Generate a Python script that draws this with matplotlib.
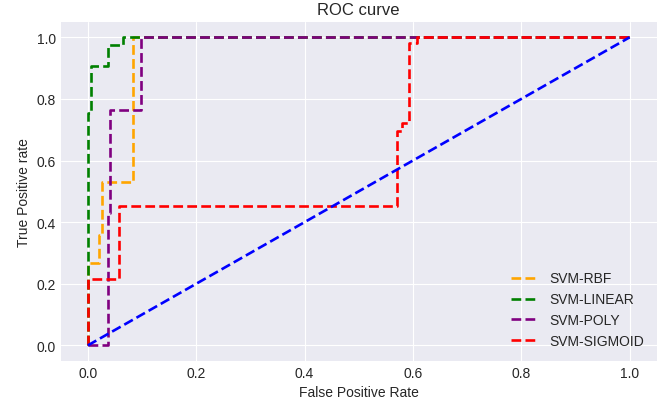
import matplotlib
matplotlib.use('Agg')
import matplotlib.pyplot as plt

# ROC points
rbf_fpr = [0, 0, 0.02, 0.02, 0.026, 0.026, 0.084, 0.084, 1.0]
rbf_tpr = [0, 0.268, 0.268, 0.359, 0.359, 0.53, 0.53, 1.0, 1.0]

linear_fpr = [0, 0, 0.006, 0.006, 0.037, 0.037, 0.065, 0.065, 1.0]
linear_tpr = [0, 0.755, 0.755, 0.908, 0.908, 0.975, 0.975, 1.0, 1.0]

poly_fpr = [0, 0.037, 0.037, 0.041, 0.041, 0.099, 0.099, 1.0]
poly_tpr = [0, 0, 0.429, 0.429, 0.764, 0.764, 1.0, 1.0]

sigmoid_fpr = [0, 0, 0.057, 0.057, 0.570, 0.570, 0.579, 0.579, 0.593, 0.593, 0.607, 0.607, 1.0]
sigmoid_tpr = [0, 0.214, 0.214, 0.454, 0.454, 0.695, 0.695, 0.723, 0.723, 0.981, 0.981, 1.0, 1.0]

chance = [0, 1]

plt.style.use('seaborn-v0_8-darkgrid')
plt.rcParams['font.family'] = ['Liberation Sans', 'DejaVu Sans']
plt.rcParams['lines.linewidth'] = 1.9

fig = plt.figure(figsize=(6.6, 4.02), dpi=100)
ax = fig.add_axes([0.092, 0.1, 0.903, 0.843])

ax.plot(rbf_fpr, rbf_tpr, linestyle='--', color='orange', label='SVM-RBF')
ax.plot(linear_fpr, linear_tpr, linestyle='--', color='green', label='SVM-LINEAR')
ax.plot(poly_fpr, poly_tpr, linestyle='--', color='purple', label='SVM-POLY')
ax.plot(sigmoid_fpr, sigmoid_tpr, linestyle='--', color='red', label='SVM-SIGMOID')
ax.plot(chance, chance, linestyle='--', color='blue')

ax.set_title('ROC curve')
ax.set_xlabel('False Positive Rate')
ax.set_ylabel('True Positive rate')
ax.legend(loc='best')

fig.savefig('out.png', dpi=100)
